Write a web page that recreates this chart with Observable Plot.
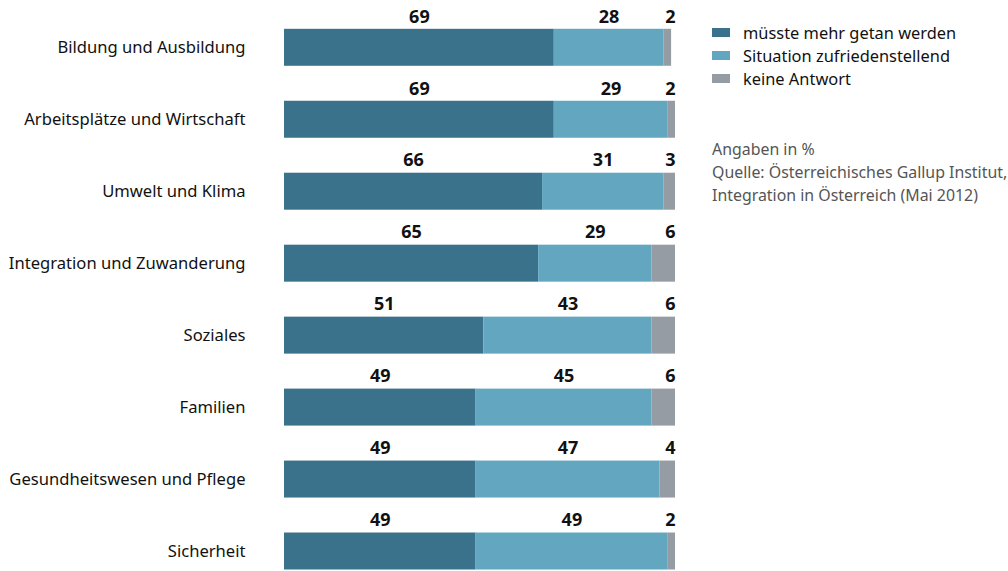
<!DOCTYPE html>
<html>
<head>
<meta charset="utf-8">
<script src="https://cdn.jsdelivr.net/npm/d3@7"></script>
<script src="https://cdn.jsdelivr.net/npm/@observablehq/plot@0.6"></script>
<style>
  body { margin: 0; background: #fff; font-family: "Noto Sans", sans-serif; }
  #wrap { position: relative; width: 1008px; height: 571px; overflow: hidden; }
  #chart { position: absolute; left: 0; top: 0; }
  #legend { position: absolute; left: 712px; top: 21px; font-size: 16.4px; color: #111; }
  .lg { display: flex; align-items: center; height: 23px; }
  .sw { width: 18px; height: 9px; margin-right: 13px; flex: none; }
  #notes { position: absolute; left: 712px; top: 138px; font-size: 15.9px; color: #555; line-height: 23px; white-space: nowrap; }
</style>
</head>
<body>
<div id="wrap">
  <div id="chart"></div>
  <div id="legend"></div>
  <div id="notes">Angaben in %<br>Quelle: Österreichisches Gallup Institut,<br>Integration in Österreich (Mai 2012)</div>
</div>
<script>
const categories = [
  "Bildung und Ausbildung",
  "Arbeitsplätze und Wirtschaft",
  "Umwelt und Klima",
  "Integration und Zuwanderung",
  "Soziales",
  "Familien",
  "Gesundheitswesen und Pflege",
  "Sicherheit"
];
const seriesNames = ["müsste mehr getan werden", "Situation zufriedenstellend", "keine Antwort"];
const seriesColors = ["#3a728c", "#62a6c0", "#969ca3"];
const mehrGetan = [69, 69, 66, 65, 51, 49, 49, 49];
const zufrieden = [28, 29, 31, 29, 43, 45, 47, 49];
const keineAntwort = [2, 2, 3, 6, 6, 6, 4, 2];

const seriesValues = [mehrGetan, zufrieden, keineAntwort];
const data = [];
categories.forEach((c, i) => {
  seriesNames.forEach((s, j) => data.push({cat: c, series: s, value: seriesValues[j][i]}));
});
const lastSeries = seriesNames[2];

const chart = Plot.plot({
  width: 1008,
  height: 571,
  marginLeft: 284,
  marginRight: 333,
  marginTop: 28.8,
  marginBottom: 1.5,
  style: {fontFamily: "Noto Sans, sans-serif", background: "white"},
  x: {domain: [0, 100], axis: null},
  y: {domain: categories, paddingInner: 0.486, paddingOuter: 0, round: false, axis: null},
  color: {domain: seriesNames, range: seriesColors},
  marks: [
    Plot.barX(data, Plot.stackX({x: "value", y: "cat", fill: "series", order: seriesNames})),
    Plot.text(data, Plot.stackX({
      x: "value", y: "cat", z: "series", order: seriesNames,
      text: d => d.series === lastSeries ? "" : String(d.value),
      dy: -31, fontSize: 18, fontWeight: "bold", fill: "#111"
    })),
    Plot.text(data.filter(d => d.series === lastSeries), {
      y: "cat", text: d => String(d.value), frameAnchor: "right", textAnchor: "end",
      dy: -31, fontSize: 18, fontWeight: "bold", fill: "#111"
    }),
    Plot.text(categories, {
      y: d => d, text: d => d, frameAnchor: "left", textAnchor: "end", dx: -39,
      fontSize: 16.6, fill: "#111"
    })
  ]
});
document.getElementById("chart").appendChild(chart);

const legend = document.getElementById("legend");
seriesNames.forEach((s, i) => {
  const row = document.createElement("div");
  row.className = "lg";
  const sw = document.createElement("span");
  sw.className = "sw";
  sw.style.background = seriesColors[i];
  const t = document.createElement("span");
  t.textContent = s;
  row.appendChild(sw);
  row.appendChild(t);
  legend.appendChild(row);
});
</script>
</body>
</html>
